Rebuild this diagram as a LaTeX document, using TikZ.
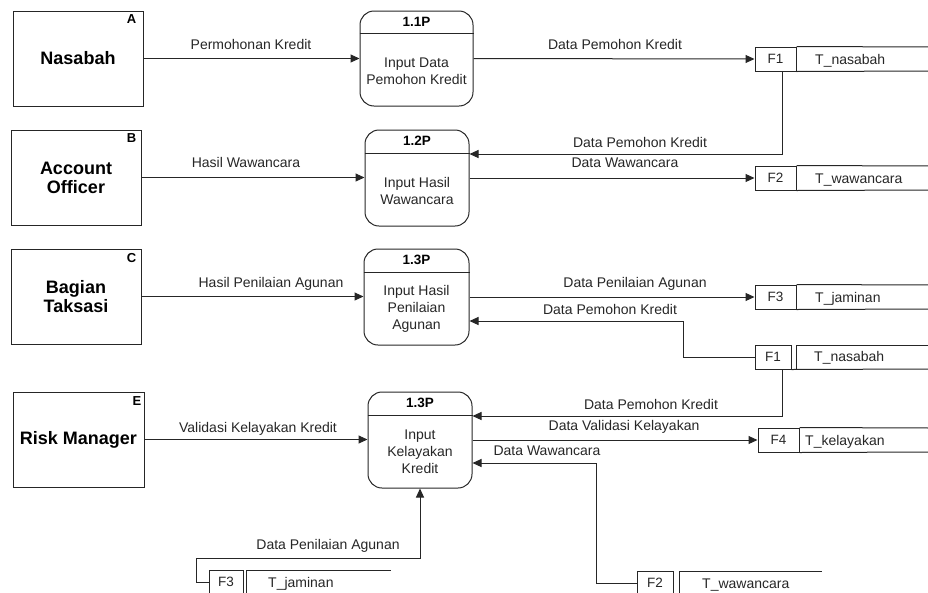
\documentclass[tikz,border=0pt]{standalone}
\usepackage{fontspec}
\setmainfont{Liberation Sans}
\usetikzlibrary{arrows.meta}
\begin{document}
\begin{tikzpicture}[x=1pt,y=-1pt,
  ln/.style={line width=1pt,draw=black!85},
  ent/.style={ln,draw,minimum width=130pt,minimum height=95pt,inner sep=0pt,align=center,
    font=\fontsize{18}{19}\selectfont\bfseries},
  entid/.style={inner sep=0pt,font=\fontsize{13}{13}\selectfont\bfseries},
  proc/.style={ln,draw,rounded corners=14pt,minimum height=96pt,inner sep=0pt},
  phead/.style={inner sep=0pt,font=\fontsize{13.5}{14}\selectfont\bfseries},
  pbody/.style={inner sep=0pt,align=center,font=\fontsize{14}{17}\selectfont,text=black!85},
  sid/.style={ln,draw,minimum height=24pt,inner sep=0pt,font=\fontsize{13.5}{14}\selectfont,text=black!85},
  sname/.style={inner sep=0pt,anchor=base west,font=\fontsize{14}{14}\selectfont,text=black!85},
  lab/.style={inner sep=0pt,font=\fontsize{14}{14}\selectfont,text=black!85},
  flow/.style={ln,-{Triangle[length=9pt,width=8pt]}},
  wire/.style={ln}
]
\useasboundingbox (0,0) rectangle (928,592);

% ---------- external entities ----------
\node[ent] (nas) at (78,58.5) {Nasabah};
\node[entid,anchor=north east] (nasid) at ([xshift=-7pt,yshift=-4pt]nas.north east) {A};
\node[ent] (ao) at (76,177.5) {Account\\Officer};
\node[entid,anchor=north east] (aoid) at ([xshift=-5pt,yshift=-4pt]ao.north east) {B};
\node[ent] (bt) at (76,296.5) {Bagian\\Taksasi};
\node[entid,anchor=north east] (btid) at ([xshift=-5pt,yshift=-5pt]bt.north east) {C};
\node[ent,minimum width=131pt] (rm) at (78.5,439.5) {Risk Manager};
\node[entid,anchor=north east] (rmid) at ([xshift=-3pt,yshift=-5pt]rm.north east) {E};

% ---------- processes ----------
\node[proc,minimum width=113pt,minimum height=95pt] (p1) at (416.5,58.5) {};
\draw[ln] ([yshift=-23pt]p1.north west) -- ([yshift=-23pt]p1.north east);
\node[phead] (p1h) at (416.5,22) {1.1P};
\node[pbody] (p1b) at (416.5,71.5) {Input Data\\Pemohon Kredit};

\node[proc,minimum width=104pt] (p2) at (417,178) {};
\draw[ln] ([yshift=-24pt]p2.north west) -- ([yshift=-24pt]p2.north east);
\node[phead] (p2h) at (417,141) {1.2P};
\node[pbody] (p2b) at (417,191) {Input Hasil\\Wawancara};

\node[proc,minimum width=105pt] (p3) at (416.5,297) {};
\draw[ln] ([yshift=-24pt]p3.north west) -- ([yshift=-24pt]p3.north east);
\node[phead] (p3h) at (416.5,260) {1.3P};
\node[pbody] (p3b) at (416.5,309) {Input Hasil\\Penilaian\\Agunan};

\node[proc,minimum width=104pt] (p4) at (420,440) {};
\draw[ln] ([yshift=-24pt]p4.north west) -- ([yshift=-24pt]p4.north east);
\node[phead] (p4h) at (420,403) {1.3P};
\node[pbody] (p4b) at (420,452) {Input\\Kelayakan\\Kredit};

% ---------- data stores ----------
% F1 (top)
\node[sid,minimum width=41pt] (f1) at (775.5,59) {F1};
\draw[ln] (f1.north east) -- (930,47);
\draw[ln] (f1.south east) -- (930,71);
\node[sname] (f1n) at (815,64) {T\_nasabah};
% F2
\node[sid,minimum width=41pt] (f2) at (775.5,178) {F2};
\draw[ln] (f2.north east) -- (930,166);
\draw[ln] (f2.south east) -- (930,190);
\node[sname] (f2n) at (815,183) {T\_wawancara};
% F3
\node[sid,minimum width=41pt] (f3) at (775.5,297) {F3};
\draw[ln] (f3.north east) -- (930,285);
\draw[ln] (f3.south east) -- (930,309);
\node[sname] (f3n) at (815,302) {T\_jaminan};
% F1 (second)
\node[sid,minimum width=36pt] (f1b) at (773,357) {F1};
\draw[ln] (796,345) -- (930,345);
\draw[ln] (f1b.south east) -- (930,369);
\draw[ln] (796,345) -- (796,369);
\node[sname] (f1bn) at (814,361) {T\_nasabah};
% F4
\node[sid,minimum width=41pt] (f4) at (778.5,440) {F4};
\draw[ln] (f4.north east) -- (930,428);
\draw[ln] (f4.south east) -- (930,452);
\node[sname] (f4n) at (805,445) {T\_kelayakan};
% F3 (bottom)
\node[sid,minimum width=34pt] (f3b) at (226,582) {F3};
\draw[ln] (246,570) -- (391,570);
\draw[ln] (246,570) -- (246,596);
\node[sname] (f3bn) at (268,587) {T\_jaminan};
% F2 (bottom)
\node[sid,minimum width=36pt] (f2b) at (655,583) {F2};
\draw[ln] (679,571) -- (822,571);
\draw[ln] (679,571) -- (679,596);
\node[sname] (f2bn) at (702,588) {T\_wawancara};

% ---------- flows ----------
\coordinate (k1) at (782,154);
\coordinate (k2) at (683,321);
\coordinate (k3) at (782,416);
\coordinate (k4) at (596,463);
\coordinate (k5) at (196,558);

\draw[flow] (nas.east) -- (p1.west);
\node[lab] (l1) at (251,44) {Permohonan Kredit};
\draw[flow] (p1.east) -- (f1.west);
\node[lab] (l2) at (615,44) {Data Pemohon Kredit};

\draw[flow] (ao.east) -- (p2.west |- ao.east);
\node[lab] (l3) at (246,162) {Hasil Wawancara};
\draw[flow] (f1.south -| k1) |- (p2.east |- k1);
\node[lab] (l4) at (640,142) {Data Pemohon Kredit};
\draw[flow] (p2.east) -- (f2.west);
\node[lab] (l5) at (625,163) {Data Wawancara};

\draw[flow] (bt.east) -- (p3.west |- bt.east);
\node[lab] (l6) at (271,284) {Hasil Penilaian Agunan};
\draw[flow] (p3.east) -- (f3.west);
\node[lab] (l7) at (635,284) {Data Penilaian Agunan};
\draw[flow] (f1b.west) -| (k2) -- (p3.east |- k2);
\node[lab] (l8) at (610,309) {Data Pemohon Kredit};

\draw[flow] (rm.east) -- (p4.west |- rm.east);
\node[lab] (l9) at (258,429) {Validasi Kelayakan Kredit};
\draw[flow] (f1b.south -| k3) |- (p4.east |- k3);
\node[lab] (l10) at (651,404) {Data Pemohon Kredit};
\draw[flow] (p4.east) -- (f4.west);
\node[lab] (l11) at (624,427) {Data Validasi Kelayakan};
\draw[flow] (f2b.west) -| (k4) -- (p4.east |- k4);
\node[lab] (l12) at (547,451) {Data Wawancara};
\draw[flow] (f3b.west) -| (k5) -| (p4.south);
\node[lab] (l13) at (328,546) {Data Penilaian Agunan};
\end{tikzpicture}
\end{document}
